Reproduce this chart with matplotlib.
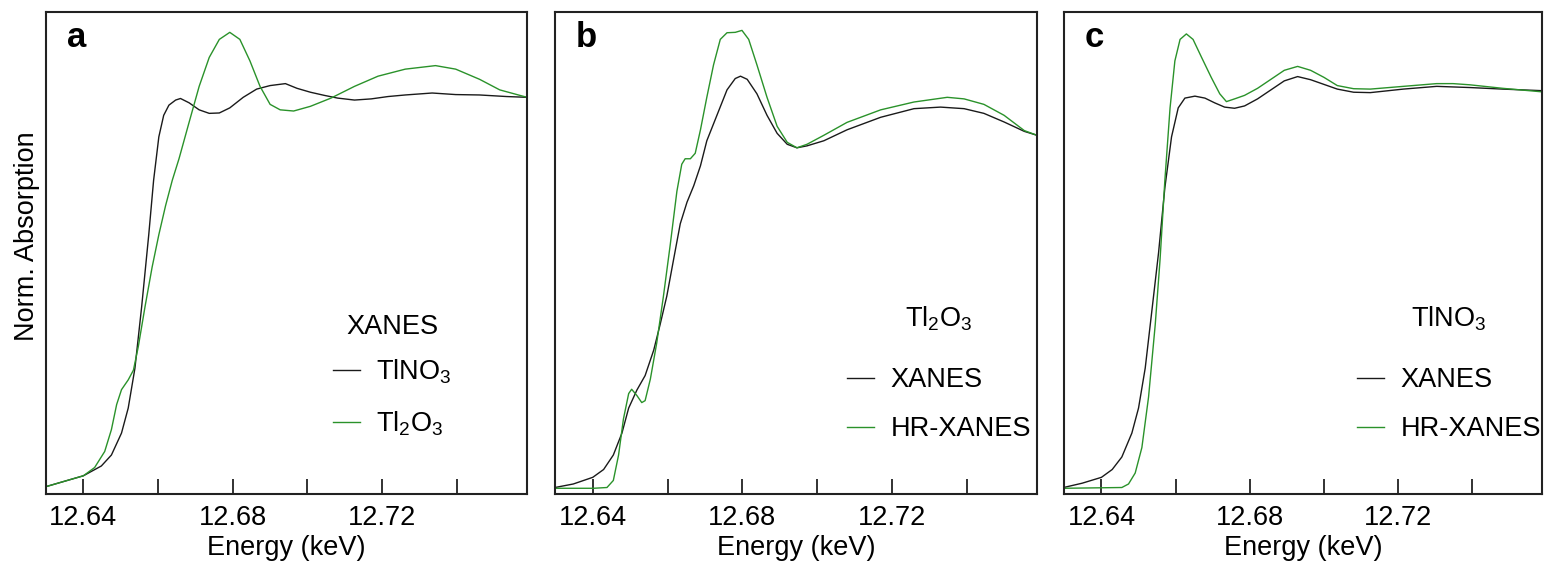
import matplotlib
matplotlib.use("Agg")
import matplotlib.pyplot as plt
from matplotlib.ticker import FixedLocator

plt.rcParams['font.family'] = ['Liberation Sans', 'DejaVu Sans']
plt.rcParams['mathtext.fontset'] = 'custom'
plt.rcParams['mathtext.rm'] = 'Liberation Sans'
plt.rcParams['mathtext.it'] = 'Liberation Sans'

# ---- panel a : XANES of both references ----
a_tlno3_E = [12.6299, 12.6400, 12.6448, 12.6475, 12.6502, 12.6520, 12.6538, 12.6556, 12.6575,
             12.6588, 12.6602, 12.6615, 12.6629, 12.6647, 12.6660, 12.6683, 12.6710, 12.6737,
             12.6764, 12.6792, 12.6828, 12.6864, 12.6900, 12.6941, 12.6972, 12.7008, 12.7045,
             12.7081, 12.7126, 12.7171, 12.7216, 12.7262, 12.7334, 12.7397, 12.7461, 12.7533, 12.7588]
a_tlno3_mu = [0.002, 0.030, 0.055, 0.083, 0.139, 0.203, 0.305, 0.462, 0.646,
              0.785, 0.896, 0.951, 0.977, 0.990, 0.994, 0.983, 0.965, 0.956,
              0.957, 0.970, 0.997, 1.018, 1.027, 1.032, 1.020, 1.010, 1.002,
              0.995, 0.990, 0.993, 0.999, 1.003, 1.008, 1.004, 1.003, 0.999, 0.997]

a_tl2o3_E = [12.6299, 12.6400, 12.6430, 12.6457, 12.6475, 12.6489, 12.6502, 12.6520, 12.6534,
             12.6547, 12.6565, 12.6584, 12.6602, 12.6620, 12.6638, 12.6656, 12.6683, 12.6710,
             12.6737, 12.6764, 12.6792, 12.6819, 12.6846, 12.6873, 12.6900, 12.6927, 12.6963,
             12.7008, 12.7063, 12.7126, 12.7189, 12.7262, 12.7343, 12.7397, 12.7461, 12.7515, 12.7588]
a_tl2o3_mu = [0.002, 0.030, 0.051, 0.092, 0.148, 0.212, 0.250, 0.275, 0.300,
              0.360, 0.462, 0.563, 0.646, 0.720, 0.785, 0.840, 0.933, 1.025,
              1.099, 1.145, 1.163, 1.145, 1.090, 1.025, 0.979, 0.965, 0.962,
              0.974, 0.995, 1.025, 1.051, 1.069, 1.078, 1.069, 1.043, 1.016, 0.997]

# ---- panel b : Tl2O3, XANES vs HR-XANES ----
b_xanes_E = [12.6299, 12.6348, 12.6400, 12.6429, 12.6455, 12.6478, 12.6496, 12.6518, 12.6540,
             12.6563, 12.6580, 12.6598, 12.6616, 12.6634, 12.6652, 12.6670, 12.6688, 12.6705,
             12.6732, 12.6759, 12.6781, 12.6795, 12.6813, 12.6839, 12.6866, 12.6893, 12.6920,
             12.6946, 12.6973, 12.7018, 12.7080, 12.7170, 12.7259, 12.7330, 12.7393, 12.7446,
             12.7500, 12.7554, 12.7588]
b_xanes_mu = [0.000, 0.009, 0.026, 0.046, 0.083, 0.139, 0.203, 0.249, 0.286,
              0.351, 0.416, 0.489, 0.582, 0.674, 0.729, 0.771, 0.822, 0.886,
              0.951, 1.016, 1.045, 1.051, 1.043, 1.006, 0.951, 0.905, 0.877,
              0.868, 0.873, 0.886, 0.914, 0.946, 0.968, 0.972, 0.968, 0.956,
              0.934, 0.910, 0.900]

b_hr_E = [12.6299, 12.6402, 12.6438, 12.6455, 12.6469, 12.6482, 12.6496, 12.6504, 12.6518,
          12.6531, 12.6540, 12.6554, 12.6571, 12.6589, 12.6607, 12.6625, 12.6638, 12.6647,
          12.6661, 12.6674, 12.6688, 12.6705, 12.6723, 12.6741, 12.6759, 12.6781, 12.6799,
          12.6817, 12.6839, 12.6866, 12.6893, 12.6920, 12.6946, 12.6973, 12.7018, 12.7080,
          12.7170, 12.7259, 12.7348, 12.7393, 12.7446, 12.7500, 12.7554, 12.7588]
b_hr_mu = [-0.002, -0.002, 0.000, 0.018, 0.083, 0.175, 0.240, 0.251, 0.235,
           0.217, 0.222, 0.277, 0.369, 0.489, 0.619, 0.757, 0.826, 0.840,
           0.840, 0.854, 0.914, 0.997, 1.080, 1.145, 1.162, 1.163, 1.168,
           1.145, 1.080, 0.997, 0.923, 0.882, 0.868, 0.877, 0.900, 0.933,
           0.965, 0.985, 0.997, 0.993, 0.979, 0.951, 0.912, 0.900]

# ---- panel c : TlNO3, XANES vs HR-XANES ----
c_xanes_E = [12.6298, 12.6348, 12.6400, 12.6429, 12.6455, 12.6482, 12.6500, 12.6518, 12.6536,
             12.6554, 12.6571, 12.6589, 12.6607, 12.6625, 12.6652, 12.6679, 12.6705, 12.6732,
             12.6759, 12.6786, 12.6821, 12.6857, 12.6893, 12.6929, 12.6964, 12.7000, 12.7036,
             12.7080, 12.7125, 12.7214, 12.7304, 12.7393, 12.7482, 12.7588]
c_xanes_mu = [0.000, 0.011, 0.026, 0.046, 0.078, 0.139, 0.203, 0.305, 0.452,
              0.600, 0.766, 0.896, 0.970, 0.995, 1.000, 0.995, 0.983, 0.972,
              0.969, 0.975, 0.993, 1.016, 1.039, 1.050, 1.042, 1.030, 1.018,
              1.010, 1.009, 1.018, 1.025, 1.022, 1.018, 1.014]

c_hr_E = [12.6298, 12.6455, 12.6473, 12.6491, 12.6509, 12.6527, 12.6545, 12.6558, 12.6571,
          12.6585, 12.6598, 12.6612, 12.6629, 12.6647, 12.6670, 12.6696, 12.6719, 12.6737,
          12.6759, 12.6786, 12.6821, 12.6857, 12.6893, 12.6929, 12.6964, 12.7000, 12.7036,
          12.7080, 12.7125, 12.7214, 12.7304, 12.7348, 12.7393, 12.7482, 12.7588]
c_hr_mu = [-0.002, 0.000, 0.009, 0.037, 0.102, 0.231, 0.416, 0.582, 0.785,
           0.970, 1.090, 1.145, 1.159, 1.145, 1.099, 1.048, 1.006, 0.986,
           0.993, 1.002, 1.020, 1.043, 1.066, 1.076, 1.066, 1.048, 1.027,
           1.019, 1.018, 1.025, 1.032, 1.032, 1.029, 1.020, 1.011]

panel_letters = ['a', 'b', 'c']
legend_titles = ['XANES', 'Tl$_2$O$_3$', 'TlNO$_3$']
series_labels = [['TlNO$_3$', 'Tl$_2$O$_3$'], ['XANES', 'HR-XANES'], ['XANES', 'HR-XANES']]
series_data = [[(a_tlno3_E, a_tlno3_mu), (a_tl2o3_E, a_tl2o3_mu)],
               [(b_xanes_E, b_xanes_mu), (b_hr_E, b_hr_mu)],
               [(c_xanes_E, c_xanes_mu), (c_hr_E, c_hr_mu)]]

colors = ['#1a1a1a', '#2a922a']
W, H = 1544, 567
FS = 19.5
ax_px = [(45.7, 481.3), (555, 482), (1064, 478)]
leg_anchor = [(0.597, 0.374), (0.606, 0.394), (0.613, 0.394)]
leg_sep = [13, 25, 25]

fig = plt.figure(figsize=(W / 100, H / 100), dpi=100)
for i in range(3):
    x0, w = ax_px[i]
    ax = fig.add_axes([x0 / W, 73 / H, w / W, 482 / H])
    for (E, mu), lab, col in zip(series_data[i], series_labels[i], colors):
        ax.plot(E, mu, color=col, lw=1.0, label=lab)
    ax.set_xlim(12.6299, 12.7588)
    ax.set_ylim(-0.0166, 1.215)
    ax.xaxis.set_major_locator(FixedLocator([12.64, 12.68, 12.72]))
    ax.xaxis.set_minor_locator(FixedLocator([12.66, 12.70, 12.74]))
    ax.set_xticklabels(['12.64', '12.68', '12.72'])
    ax.tick_params(axis='x', which='both', direction='in', length=11, width=1.3,
                   labelsize=FS, pad=8, color='#222222')
    ax.set_yticks([])
    for sp in ax.spines.values():
        sp.set_linewidth(1.5)
        sp.set_color('#222222')
    ax.set_xlabel('Energy (keV)', fontsize=FS, labelpad=3)
    ax.text(0.064, 0.948, panel_letters[i], transform=ax.transAxes, fontsize=25,
            fontweight='bold', ha='center', va='center')
    leg = ax.legend(loc='upper left', bbox_to_anchor=leg_anchor[i], frameon=False,
                    title=legend_titles[i], fontsize=FS, title_fontsize=FS,
                    handlelength=1.0, handletextpad=0.6, labelspacing=0.85,
                    borderpad=0, borderaxespad=0)
    leg._legend_box.sep = leg_sep[i]
    if i == 0:
        ax.set_ylabel('Norm. Absorption', fontsize=FS)
        ax.yaxis.set_label_coords(-0.012, 0.535)

fig.savefig('out.png', dpi=100)
